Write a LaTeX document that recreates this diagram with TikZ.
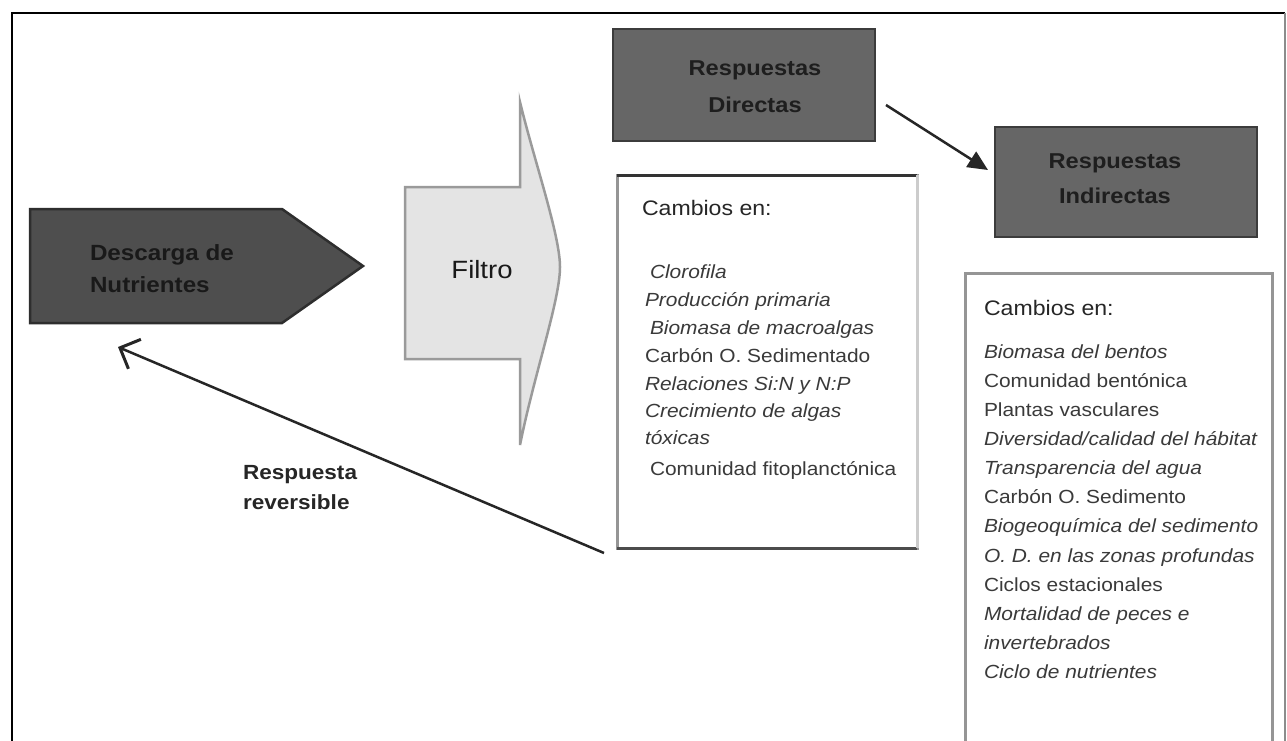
\documentclass[tikz,border=0pt]{standalone}
\usepackage{fontspec}
\setmainfont[FakeStretch=1.1]{Liberation Sans}
\usetikzlibrary{arrows.meta}
\definecolor{descfill}{HTML}{4E4E4E}
\definecolor{descline}{HTML}{2E2E2E}
\definecolor{respfill}{HTML}{666666}
\definecolor{respline}{HTML}{3C3C3C}
\definecolor{resptext}{HTML}{1E1E1E}
\definecolor{filtfill}{HTML}{E4E4E4}
\definecolor{filtline}{HTML}{9A9A9A}
\definecolor{boxline}{HTML}{959595}
\definecolor{itemcol}{HTML}{3A3A3A}
\newcommand{\bigtxt}{\fontsize{21.5}{21.5}\selectfont\bfseries}
\newcommand{\desctxt}{\fontsize{22}{22}\selectfont\bfseries}
\newcommand{\headtxt}{\fontsize{21}{21}\selectfont}
\newcommand{\itemtxt}{\fontsize{19}{19}\selectfont}
\newcommand{\revtxt}{\fontsize{20.5}{20.5}\selectfont\bfseries}
\tikzset{
  lbl/.style={inner sep=0pt, outer sep=0pt, anchor=base},
  lblw/.style={inner sep=0pt, outer sep=0pt, anchor=base west},
  respbox/.style={draw=respline, fill=respfill, line width=2.5pt, inner sep=0pt, outer sep=0pt},
  resplbl/.style={lbl, font=\bigtxt, text=resptext},
  listbox/.style={draw=boxline, line width=3pt},
  itm/.style={lblw, font=\itemtxt, text=itemcol},
  itmi/.style={lblw, font=\itemtxt\itshape, text=itemcol},
  hdr/.style={lblw, font=\headtxt, text=black!85},
  conn/.style={line width=2.5pt, draw=black!85}
}
\begin{document}
\begin{tikzpicture}[x=1pt,y=-1pt]
\useasboundingbox (0,0) rectangle (1287,740);
\fill[white] (0,0) rectangle (1287,740);
% outer frame
\draw[line width=2pt, black] (12,760) -- (12,13) -- (1285,13);
\draw[line width=2pt, black!45] (1285,13) -- (1285,760);

% Descarga de Nutrientes
\path[fill=descfill, draw=descline, line width=2.5pt, line join=miter]
  (30,209) -- (282,209) -- (363,266) -- (282,323) -- (30,323) -- cycle;
\node[lblw, font=\desctxt, text=black!90] (desc1) at (90,260) {Descarga de};
\node[lblw, font=\desctxt, text=black!90] (desc2) at (90,292) {Nutrientes};

% Filtro
\path[fill=filtfill, draw=filtline, line width=2.5pt]
  (405,187) -- (520,187) -- (520,102)
  .. controls (534,160) and (560,235) .. (560,267)
  .. controls (560,300) and (534,375) .. (520,445)
  -- (520,359) -- (405,359) -- cycle;
\node[lbl, font=\fontsize{25}{25}\selectfont, text=black!90] (filt) at (482,278) {Filtro};

% Respuestas Directas / Indirectas
\node[respbox, minimum width=262pt, minimum height=112pt] (dir) at (744,85) {};
\node[resplbl] (dirt1) at (755,75) {Respuestas};
\node[resplbl] (dirt2) at (755,112) {Directas};
\node[respbox, minimum width=262pt, minimum height=110pt] (ind) at (1126,182) {};
\node[resplbl] (indt1) at (1115,168) {Respuestas};
\node[resplbl] (indt2) at (1115,203) {Indirectas};
\draw[conn, -{Triangle[length=20pt,width=18pt]}]
  ([xshift=11pt,yshift=-20pt]dir.east) -- ([xshift=-7pt,yshift=12pt]ind.west);

% Cambios box 1
\draw[listbox] (617,175) rectangle (917,548);
\draw[line width=3pt, black!80] (617,175) -- (917,175);
\draw[line width=3pt, black!70] (617,548) -- (917,548);
\draw[line width=3pt, black!20] (917,175) -- (917,548);
\node[hdr] (h1) at (642,215) {Cambios en:};
\node[itmi] (a1) at (650,278) {Clorofila};
\node[itmi] (a2) at (645,306) {Producción primaria};
\node[itmi] (a3) at (650,334) {Biomasa de macroalgas};
\node[itm]  (a4) at (645,362) {Carbón O. Sedimentado};
\node[itmi] (a5) at (645,390) {Relaciones Si:N y N:P};
\node[itmi] (a6) at (645,417) {Crecimiento de algas};
\node[itmi] (a7) at (645,444) {tóxicas};
\node[itm]  (a8) at (650,475) {Comunidad fitoplanctónica};

% Cambios box 2
\draw[listbox] (965,760) -- (965,273) -- (1272,273) -- (1272,760);
\node[hdr] (h2) at (984,315) {Cambios en:};
\node[itmi] (b1)  at (984,358) {Biomasa del bentos};
\node[itm]  (b2)  at (984,387) {Comunidad bentónica};
\node[itm]  (b3)  at (984,416) {Plantas vasculares};
\node[itmi] (b4)  at (984,445) {Diversidad/calidad del hábitat};
\node[itmi] (b5)  at (984,474) {Transparencia del agua};
\node[itm]  (b6)  at (984,503) {Carbón O. Sedimento};
\node[itmi] (b7)  at (984,532) {Biogeoquímica del sedimento};
\node[itmi] (b8)  at (984,562) {O. D. en las zonas profundas};
\node[itm]  (b9)  at (984,591) {Ciclos estacionales};
\node[itmi] (b10) at (984,620) {Mortalidad de peces e};
\node[itmi] (b11) at (984,649) {invertebrados};
\node[itmi] (b12) at (984,678) {Ciclo de nutrientes};

% Respuesta reversible
\coordinate (revstart) at (604,553);
\coordinate (revend) at (118,347);
\draw[conn, -{Straight Barb[length=16pt,width=32pt,line width=3pt]}] (revstart) -- (revend);
\node[lblw, font=\revtxt, text=black!85] (rev1) at (243,479) {Respuesta};
\node[lblw, font=\revtxt, text=black!85] (rev2) at (243,509) {reversible};
\end{tikzpicture}
\end{document}
